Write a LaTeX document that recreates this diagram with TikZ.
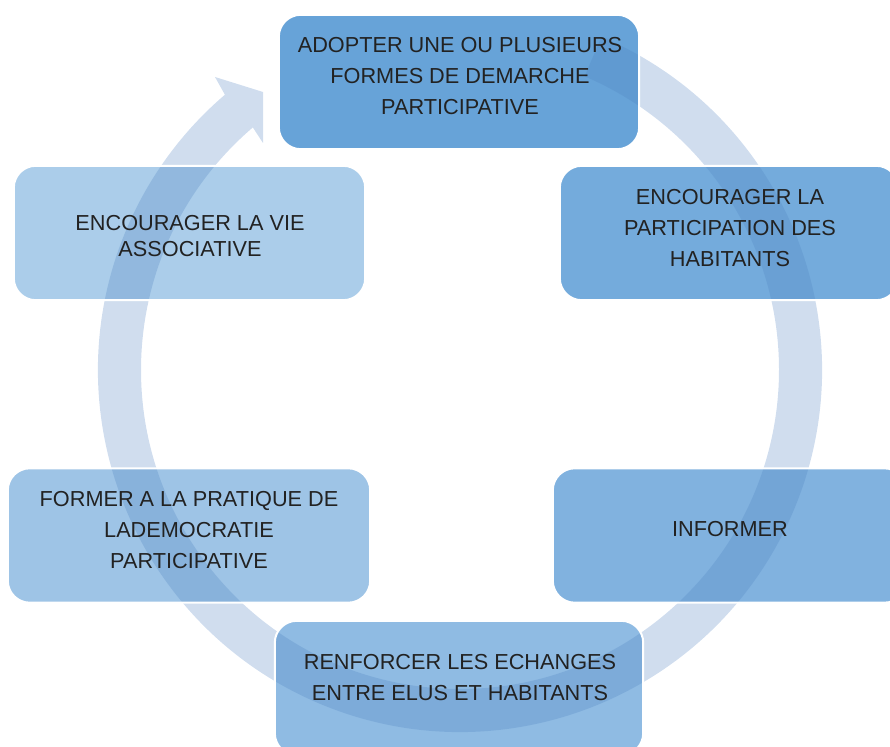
\documentclass[tikz,border=0pt]{standalone}
\usepackage{fontspec}
\setmainfont{Liberation Sans}
\usetikzlibrary{calc}
\definecolor{boxA}{RGB}{103,163,216}
\definecolor{boxB}{RGB}{116,171,220}
\definecolor{boxC}{RGB}{129,178,223}
\definecolor{boxD}{RGB}{143,187,227}
\definecolor{boxE}{RGB}{158,196,230}
\definecolor{boxF}{RGB}{171,205,234}
\definecolor{ringblue}{RGB}{80,131,193}
\definecolor{textdark}{RGB}{34,34,34}
\begin{document}
\begin{tikzpicture}[x=1pt,y=1pt,
  box/.style={shape=rectangle, draw=none, rounded corners=22pt, inner sep=0pt, minimum height=134pt},
  outline/.style={draw=white, line width=2pt, rounded corners=22pt},
  caption/.style={align=center, text=textdark, inner sep=0pt,
    font=\fontsize{21.7}{31}\selectfont},
  ring/.style={fill=ringblue, fill opacity=0.27}]
\useasboundingbox (0,0) rectangle (890,746);
\clip (0,0) rectangle (890,746);

% box fills
\node[box, fill=boxA, minimum width=360pt] (b1) at (459,664) {};
\node[box, fill=boxB, minimum width=338pt] (b2) at (729,513) {};
\node[box, fill=boxC, minimum width=353pt] (b3) at (729.5,210.5) {};
\node[box, fill=boxD, minimum width=368pt] (b4) at (459,58) {};
\node[box, fill=boxE, minimum width=362pt] (b5) at (189,210.5) {};
\node[box, fill=boxF, minimum width=351pt] (b6) at (189.5,513) {};

% circular arrow, translucent over the boxes
\coordinate (ctr) at (460,376);
\coordinate (wingout) at (215,669);
\coordinate (tiptop) at (263,654);
\coordinate (tipbot) at (263,603);
\fill[ring] ($(ctr)+(67:362)$) arc[start angle=67, end angle=-229.5, radius=362]
  -- (wingout) -- (tiptop) -- (tipbot)
  -- ($(ctr)+(-229.5:319)$) arc[start angle=-229.5, end angle=67, radius=319]
  -- cycle;

% white box outlines
\foreach \b in {b1,b2,b3,b4,b5,b6}
  \draw[outline] (\b.south west) rectangle (\b.north east);

% captions
\node[caption] (t1) at (460,670) {ADOPTER UNE OU PLUSIEURS\\FORMES DE DEMARCHE\\PARTICIPATIVE};
\node[caption] (t2) at (730,518) {ENCOURAGER LA\\PARTICIPATION DES\\HABITANTS};
\node[caption] (t3) at (730,217) {INFORMER};
\node[caption] (t4) at (460,68) {RENFORCER LES ECHANGES\\ENTRE ELUS ET HABITANTS};
\node[caption] (t5) at (189,216) {FORMER A LA PRATIQUE DE\\LADEMOCRATIE\\PARTICIPATIVE};
\node[caption, font=\fontsize{21.7}{26}\selectfont] (t6) at (190,510) {ENCOURAGER LA VIE\\ASSOCIATIVE};
\end{tikzpicture}
\end{document}
